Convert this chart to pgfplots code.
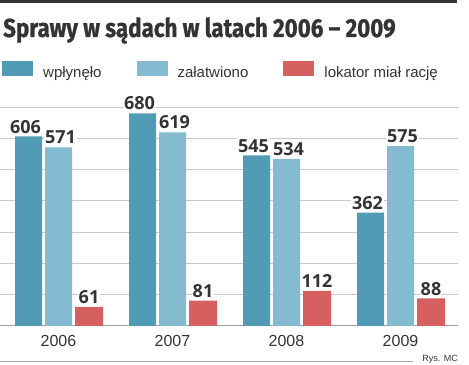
\documentclass[border=0pt]{standalone}
\usepackage{pgfplots}
\pgfplotsset{compat=1.18}
\usepackage{fontspec}
\setmainfont{Liberation Sans}
\newfontfamily\titlefont[FakeStretch=0.86, BoldFeatures={FakeBold=0.8}]{Fira Sans}
\newfontfamily\valfont{Open Sans}
\definecolor{cdark}{HTML}{519BB6}
\definecolor{clight}{HTML}{84BBD1}
\definecolor{cred}{HTML}{D65F5F}
\definecolor{ctext}{HTML}{333333}
\definecolor{cgrid}{HTML}{C8C8C8}
\begin{document}
\begin{tikzpicture}
\useasboundingbox (0,0) rectangle (469bp,365bp);
\fill[ctext] (0,362bp) rectangle (457bp,365bp);
\node[anchor=base west, inner sep=0, text=ctext] at (3bp,328bp) {\titlefont\bfseries\fontsize{26bp}{26bp}\selectfont Sprawy w sądach w latach 2006 – 2009};
\draw[gray!70, line width=0.8bp] (0,4bp) -- (413bp,4bp);
\node[anchor=base east, inner sep=0, text=ctext] at (458bp,4bp) {\fontsize{9bp}{9bp}\selectfont Rys. MC};
\begin{axis}[
  at={(0,39bp)}, anchor=south west,
  width=458bp, height=219bp, scale only axis,
  xmin=0, xmax=458, ymin=0, ymax=700,
  clip=false,
  /pgf/number format/assume math mode=true,
  axis line style={draw=none},
  tick style={draw=none},
  ytick={100,200,...,700}, yticklabels={},
  ymajorgrids, grid style={cgrid, line width=1bp},
  extra y ticks={0}, extra y tick labels={},
  extra y tick style={grid style={gray!75, line width=1bp}},
  xtick={58.5,172.5,286.5,400.5},
  xticklabels={2006,2007,2008,2009},
  xticklabel style={font=\fontsize{16bp}{16bp}\selectfont, text=ctext, inner sep=0pt, yshift=-9bp},
  nodes near coords,
  nodes near coords style={font=\valfont\bfseries\fontsize{18bp}{18bp}\selectfont, text=ctext, fill=white, inner xsep=1bp, inner ysep=1bp, anchor=south, yshift=2bp},
  legend columns=3,
  legend style={draw=none, fill=none, inner sep=0pt,
    at={(rel axis cs:0,1)}, anchor=north west, xshift=2bp, yshift=46bp,
    font=\fontsize{15bp}{15bp}\selectfont, text=ctext,
    nodes={inner sep=0pt},
    /tikz/every odd column/.style={column sep=10bp},
    /tikz/every even column/.style={column sep=35bp}},
]
\addplot[ybar, bar width=27, bar shift=0pt, fill=cdark, draw=none,
  every node near coord/.append style={xshift=-3bp},
  legend image code/.code={\fill[cdark] (0bp,-3bp) rectangle (31bp,12bp);}]
  coordinates {(28.5,606) (142.5,680) (256.5,545) (370.5,362)};
\addlegendentry{wpłynęło}
\addplot[ybar, bar width=27, bar shift=0pt, fill=clight, draw=none,
  every node near coord/.append style={xshift=2bp},
  legend image code/.code={\fill[clight] (0bp,-3bp) rectangle (31bp,12bp);}]
  coordinates {(58.5,571) (172.5,619) (286.5,534) (400.5,575)};
\addlegendentry{załatwiono}
\addplot[ybar, bar width=28, bar shift=0pt, fill=cred, draw=none,
  legend image code/.code={\fill[cred] (0bp,-3bp) rectangle (31bp,12bp);}]
  coordinates {(89,61) (203,81) (317,112) (431,88)};
\addlegendentry{lokator miał rację}
\end{axis}
\end{tikzpicture}
\end{document}
